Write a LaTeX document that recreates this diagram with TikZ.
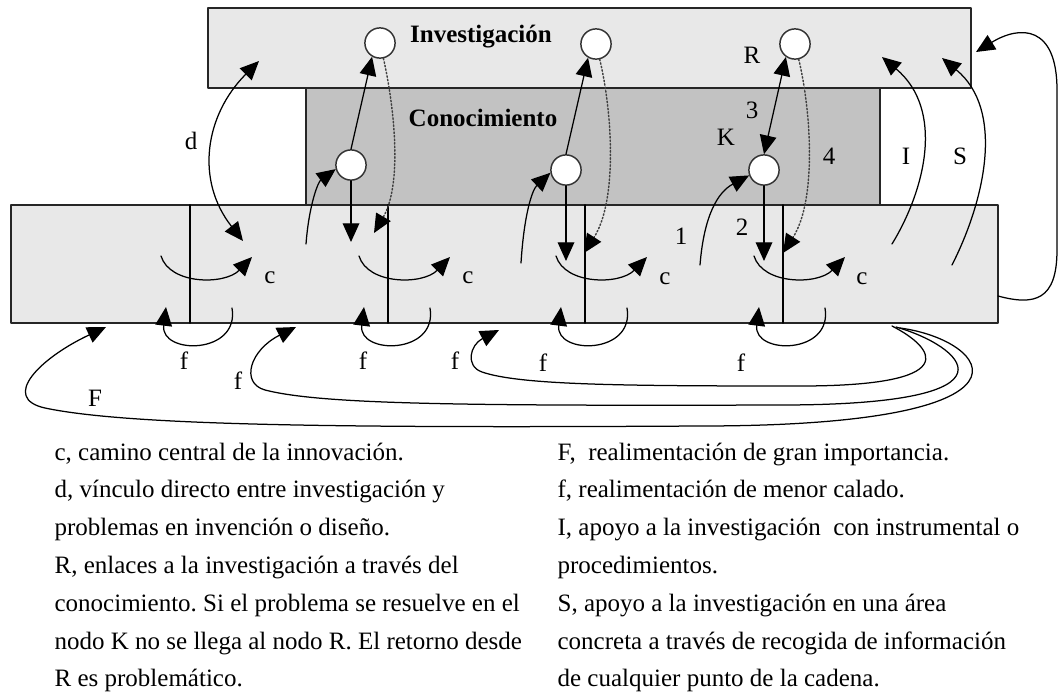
\documentclass[tikz,border=0pt,12pt]{standalone}
\usepackage{fontspec}
\setmainfont{Liberation Serif}
\usetikzlibrary{arrows.meta}
\frenchspacing
\definecolor{claro}{gray}{0.91}
\definecolor{oscuro}{gray}{0.76}
\tikzset{
	caja/.style={draw=black!85,line width=0.9pt},
	nodo/.style={circle,draw=black!80,fill=white,line width=0.7pt,minimum size=14.5pt,inner sep=0pt},
	punteada/.style={densely dotted,line width=0.7pt,draw=black!75},
}
\begin{document}
\begin{tikzpicture}[x=0.48pt,y=-0.48pt,line join = round, line cap = round, line width=0.6pt, >={Triangle[length=9pt,width=8pt,color=black]}]
			\useasboundingbox (0,0) rectangle (1058,691);
			% cajas
			\draw[caja,fill=claro] (208,8) rectangle (971,88);
			\draw[caja,fill=oscuro] (306,88) rectangle (880,205);
			\draw[caja,fill=claro] (11,205) rectangle (998,323);
			\foreach \x in {190,388,585,783} \draw[line width=0.8pt] (\x,205)--(\x,323);
			\node[font=\bfseries] (inv) at (481,37) {Investigación};
			\node[font=\bfseries] (con) at (483,118) {Conocimiento};
			% nodos R y K
			\node[nodo] (R1) at (380,43) {};
			\node[nodo] (R2) at (596,44) {};
			\node[nodo] (R3) at (795,44) {};
			\node[nodo] (K1) at (351,165) {};
			\node[nodo] (K2) at (566,170) {};
			\node[nodo] (K3) at (764,170) {};
			\draw[->] (K1.north)--(R1.240);
			\draw[->] (K2.north)--(R2.240);
			\draw[<->] (K3.north)--(R3.235);
			\foreach \k/\x/\y in {1/351/242,2/566/261,3/764/261}{
				\coordinate (kb\k) at (\x,\y);
				\draw[->] (K\k.south)--(kb\k);
			}
			\coordinate (ka1) at (306,244);
			\coordinate (ka2) at (521,263);
			\coordinate (ka3) at (700,265);
			\draw[->] (ka1) .. controls (309,205) and (318,182) .. (K1.195);
			\draw[->] (ka2) .. controls (524,215) and (532,190) .. (K2.190);
			\draw[->] (ka3) .. controls (704,215) and (718,192) .. (K3.200);
			\coordinate (rb1) at (374,233);
			\coordinate (rb2) at (584,253);
			\coordinate (rb3) at (783,253);
			\draw[->,punteada] (R1) .. controls (395,110) and (402,185) .. (rb1);
			\draw[->,punteada] (R2) .. controls (612,110) and (618,200) .. (rb2);
			\draw[->,punteada] (R3) .. controls (811,110) and (817,200) .. (rb3);
			% d
			\coordinate (dA) at (243,241);
			\coordinate (dB) at (259,61);
			\draw[<->] (dA) .. controls (195,180) and (205,115) .. (dB);
			% c y f
			\foreach \x [count=\i] in {190,388,585,783}{
				\coordinate (ca\i) at (\x-29,256);
				\coordinate (cb\i) at (\x+62,257);
				\coordinate (fa\i) at (\x+42,308);
				\coordinate (fb\i) at (\x-24,307);
				\draw[->] (ca\i) .. controls (\x-20,285) and (\x+35,285) .. (cb\i);
				\draw[->] (fa\i) .. controls (\x+50,355) and (\x-30,355) .. (fb\i);
			}
			% I, S y lazo derecho
			\coordinate (Ia) at (892,244);
			\coordinate (Ib) at (882,57);
			\coordinate (Sa) at (952,265);
			\coordinate (Sb) at (942,58);
			\draw[->] (Ia) .. controls (925,190) and (945,110) .. (Ib);
			\draw[->] (Sa) .. controls (985,200) and (1005,110) .. (Sb);
			\coordinate (La) at (998,296);
			\coordinate (Lb) at (976,52);
			\draw[->] (La) .. controls (1035,306) and (1057,300) .. (1057,250) -- (1057,90) .. controls (1057,25) and (1020,25) .. (Lb);
			% F y f largas
			\coordinate (Fa) at (900,328);
			\coordinate (Fb) at (106,327);
			\coordinate (ga) at (896,327);
			\coordinate (gb) at (296,327);
			\coordinate (ha) at (892,326);
			\coordinate (hb) at (499,330);
			\draw[->] (Fa) .. controls (990,340) and (1060,426) .. (700,426) .. controls (350,428) and (130,426) .. (45,408) .. controls (0,398) and (40,358) .. (Fb);
			\draw[->] (ga) .. controls (960,345) and (1035,405) .. (780,405) .. controls (450,406) and (320,404) .. (265,390) .. controls (240,383) and (250,350) .. (gb);
			\draw[->] (ha) .. controls (935,348) and (965,386) .. (800,386) .. controls (620,386) and (520,385) .. (482,372) .. controls (465,366) and (470,345) .. (hb);
			% letras
			\foreach \x/\y/\t [count=\i] in {191/141/d,752/55/R,752/110/3,726/137/K,829/156/4,906/156/I,960/156/S,681/236/1,742/227/2,270/278/c,468/278/c,665/279/c,862/279/c,184/361/f,363/361/f,455/361/f,543/363/f,741/363/f,238/381/f,95/398/F}
				\node (l\i) at (\x,\y) {\t};
			% leyenda
			\foreach \t [count=\i] in {{c, camino central de la innovación.},{d, vínculo directo entre investigación y},{problemas en invención o diseño.},{R, enlaces a la investigación a través del},{conocimiento. Si el problema se resuelve en el},{nodo K no se llega al nodo R. El retorno desde},{R es problemático.}}
				\node[anchor=base west,inner sep=0pt] (izq\i) at (54,{460+37.8*(\i-1)}) {\t};
			\foreach \t [count=\i] in {{F,\ \ realimentación de gran importancia.},{f, realimentación de menor calado.},{I, apoyo a la investigación\ \ con instrumental o},{procedimientos.},{S, apoyo a la investigación en una área},{concreta a través de recogida de información},{de cualquier punto de la cadena.}}
				\node[anchor=base west,inner sep=0pt] (der\i) at (557,{460+37.8*(\i-1)}) {\t};
		\end{tikzpicture}
\end{document}
